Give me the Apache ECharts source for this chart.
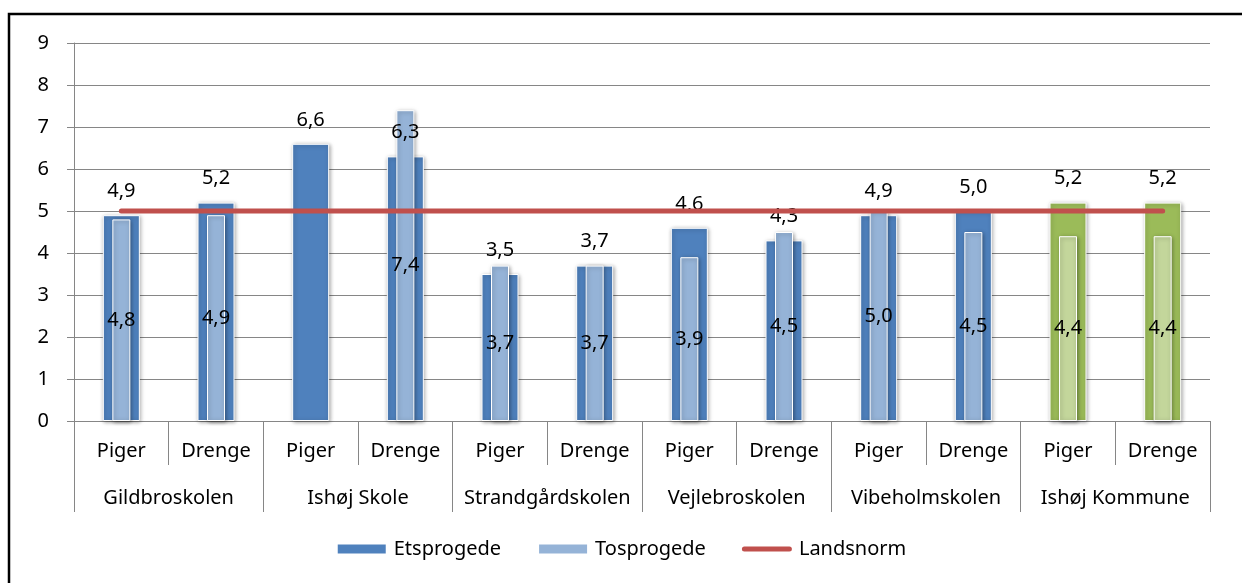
<!DOCTYPE html>
<html>
<head>
<meta charset="utf-8">
<script src="https://cdn.jsdelivr.net/npm/echarts@6/dist/echarts.min.js"></script>
<style>
html,body{margin:0;padding:0;background:#fff;}
#c{width:1242px;height:583px;}
</style>
</head>
<body>
<div id="c"></div>
<script>
const subCategories = ['Piger','Drenge','Piger','Drenge','Piger','Drenge','Piger','Drenge','Piger','Drenge','Piger','Drenge'];
const groupCategories = ['Gildbroskolen','Ishøj Skole','Strandgårdskolen','Vejlebroskolen','Vibeholmskolen','Ishøj Kommune'];
const etsprogede = [4.9, 5.2, 6.6, 6.3, 3.5, 3.7, 4.6, 4.3, 4.9, 5.0, 5.2, 5.2];
const tosprogede = [4.8, 4.9, null, 7.4, 3.7, 3.7, 3.9, 4.5, 5.0, 4.5, 4.4, 4.4];
const landsnorm = [5, 5, 5, 5, 5, 5, 5, 5, 5, 5, 5, 5];
const yTicks = [0,1,2,3,4,5,6,7,8,9];

const FONT = 'Noto Sans';
const FS = 20;
const GREY = '#868686';
const fmt = v => (v == null ? '' : Number(v).toFixed(1).replace('.', ','));
const totalIdx = [10, 11];

const etsData = etsprogede.map((v, i) => totalIdx.includes(i)
  ? {value: v, itemStyle: {color: '#9BBB59'}} : v);
const tosData = tosprogede.map((v, i) => totalIdx.includes(i)
  ? {value: v, itemStyle: {color: '#C3D69B'}} : v);

const shadow = {borderColor: '#fff', borderWidth: 1, shadowBlur: 4, shadowColor: 'rgba(0,0,0,0.35)', shadowOffsetX: 1, shadowOffsetY: 1};

const chart = echarts.init(document.getElementById('c'));
chart.setOption({
  animation: false,
  textStyle: {fontFamily: FONT},
  grid: {left: 74, right: 32, top: 43, bottom: 162},
  graphic: [
    {type: 'rect', shape: {x: 9, y: 14, width: 1260, height: 620}, style: {fill: 'none', stroke: '#000', lineWidth: 2.5}, silent: true},
    {type: 'text', left: 20, top: -13, style: {text: 'normen', font: 'bold 17px "DejaVu Serif"', fill: '#000'}, silent: true}
  ],
  legend: {
    top: 534, left: 'center',
    itemWidth: 50, itemHeight: 11, itemGap: 36,
    textStyle: {fontFamily: FONT, fontSize: FS, color: '#000', padding: [0, 0, 0, 2]},
    data: [
      {name: 'Etsprogede', icon: 'rect'},
      {name: 'Tosprogede', icon: 'rect'},
      {name: 'Landsnorm', icon: 'path://M2.5,0 L47.5,0 A2.5,2.5 0 0 1 47.5,5 L2.5,5 A2.5,2.5 0 0 1 2.5,0 Z', itemStyle: {color: '#C0504D'}}
    ]
  },
  xAxis: [
    {type: 'category', data: subCategories, position: 'bottom',
     axisLine: {show: true, lineStyle: {color: GREY, width: 1}},
     axisTick: {show: true, length: 44, interval: 0, lineStyle: {color: GREY}},
     axisLabel: {interval: 0, margin: 20, fontSize: FS, color: '#000', fontFamily: FONT}},
    {type: 'category', data: groupCategories, position: 'bottom', offset: 0,
     axisLine: {show: false},
     axisTick: {show: true, length: 91, interval: 0, lineStyle: {color: GREY}},
     axisLabel: {interval: 0, margin: 67, fontSize: FS, color: '#000', fontFamily: FONT}},
    {type: 'category', data: subCategories, position: 'bottom', show: false}
  ],
  yAxis: {
    type: 'value', min: 0, max: 9, interval: 1,
    axisLine: {show: true, lineStyle: {color: GREY}},
    axisTick: {show: true, length: 7, lineStyle: {color: GREY}},
    axisLabel: {margin: 25, fontSize: FS, color: '#000', fontFamily: FONT,
      formatter: v => yTicks.includes(v) ? String(v) : ''},
    splitLine: {show: true, lineStyle: {color: GREY, width: 1.2}}
  },
  series: [
    {name: 'Etsprogede', type: 'bar', xAxisIndex: 0, data: etsData, barWidth: 37,
     itemStyle: Object.assign({color: '#4F81BD'}, shadow),
     label: {show: true, position: 'top', distance: 14, fontSize: FS, color: '#000', fontFamily: FONT,
       formatter: p => fmt(p.value)}},
    {name: 'Tosprogede', type: 'bar', xAxisIndex: 2, data: tosData, barWidth: 18,
     itemStyle: Object.assign({color: '#95B3D7'}, shadow),
     label: {show: true, position: 'inside', fontSize: FS, color: '#000', fontFamily: FONT,
       formatter: p => fmt(p.value)}},
    {name: 'Landsnorm', type: 'line', xAxisIndex: 0, data: landsnorm, symbol: 'none', showSymbol: false,
     lineStyle: {color: '#C0504D', width: 5, cap: 'round'}, itemStyle: {color: '#C0504D'}, z: 5}
  ]
});
</script>
</body>
</html>
